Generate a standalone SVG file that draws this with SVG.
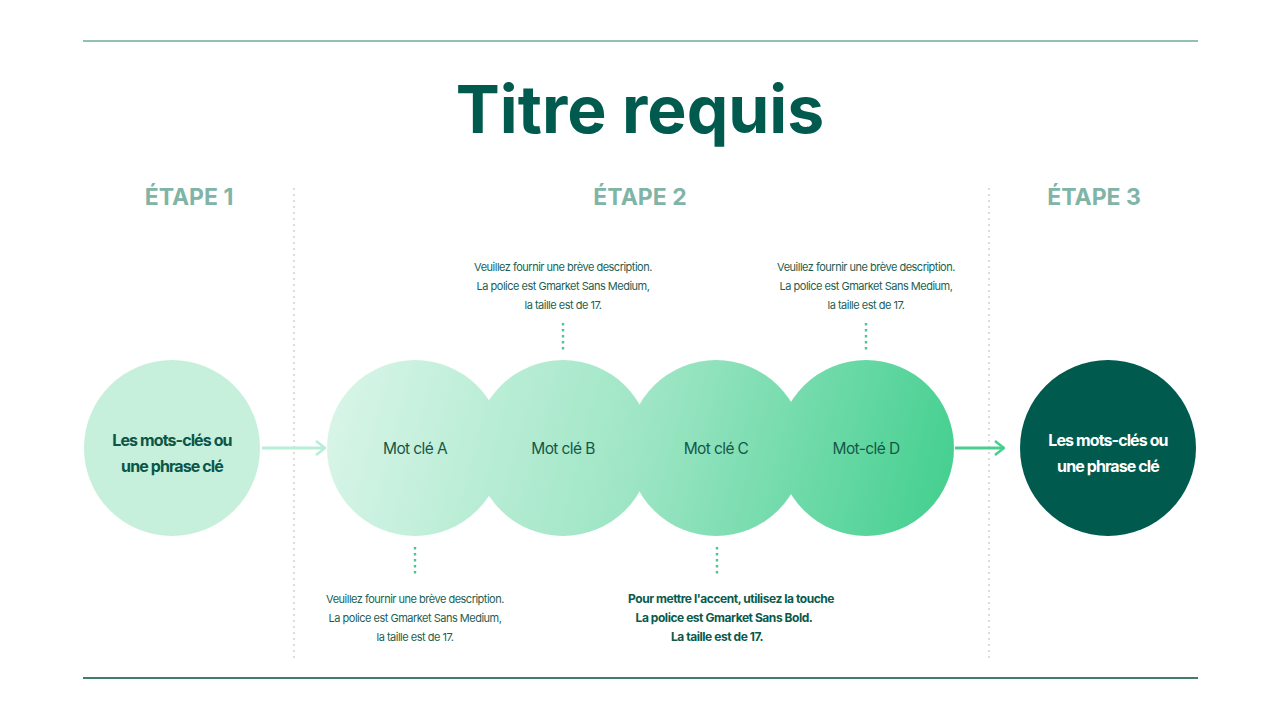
<svg xmlns="http://www.w3.org/2000/svg" width="1280" height="720" viewBox="0 0 1280 720">
<defs>
<linearGradient id="g" gradientUnits="userSpaceOnUse" x1="340" y1="370" x2="950" y2="530">
<stop offset="0" stop-color="#d8f5e8"/>
<stop offset="0.5" stop-color="#9ce5c4"/>
<stop offset="1" stop-color="#42cf8e"/>
</linearGradient>
<marker id="ah1" viewBox="0 0 12 16" refX="11" refY="8" markerWidth="12" markerHeight="16" markerUnits="userSpaceOnUse" orient="auto">
<path d="M2 1 L11 8 L2 15" fill="none" stroke="#b8edd6" stroke-width="2.6"/>
</marker>
<marker id="ah2" viewBox="0 0 12 16" refX="11" refY="8" markerWidth="12" markerHeight="16" markerUnits="userSpaceOnUse" orient="auto">
<path d="M2 1 L11 8 L2 15" fill="none" stroke="#48cf8f" stroke-width="2.6"/>
</marker>
</defs>
<style>
.t{font-family:Inter,"Liberation Sans",sans-serif;text-anchor:middle}
.step{font-size:23px;font-weight:700;fill:#80b4a6}
.desc{font-size:11px;fill:#1d5f52;letter-spacing:-0.5px}
.descb{font-size:12px;font-weight:700;fill:#0a5a4b;letter-spacing:-0.45px}
.kw{font-size:15.5px;fill:#145848;letter-spacing:-0.6px}
.kb{font-size:16px;font-weight:700;letter-spacing:-0.9px}
.sep{stroke:#dcdcdc;stroke-width:2;stroke-dasharray:2 4}
.dots{stroke:#4cc690;stroke-width:2.4;stroke-dasharray:2.4 3.6}
</style>
<rect width="1280" height="720" fill="#ffffff"/>
<line x1="83" y1="41" x2="1198" y2="41" stroke="#94bfb3" stroke-width="2"/>
<line x1="83" y1="678" x2="1198" y2="678" stroke="#3f7d6f" stroke-width="2"/>
<text class="t" x="640" y="133" font-size="66" font-weight="700" fill="#005a4e">Titre requis</text>
<text class="t step" x="189" y="205">ÉTAPE 1</text>
<text class="t step" x="640" y="205">ÉTAPE 2</text>
<text class="t step" x="1094" y="205">ÉTAPE 3</text>
<line class="sep" x1="294" y1="188" x2="294" y2="660"/>
<line class="sep" x1="989" y1="188" x2="989" y2="660"/>
<g id="connectors">
<line x1="262" y1="448" x2="325" y2="448" stroke="#b8edd6" stroke-width="3" marker-end="url(#ah1)"/>
<line x1="955" y1="448" x2="1004" y2="448" stroke="#48cf8f" stroke-width="3" marker-end="url(#ah2)"/>
<line class="dots" x1="563" y1="323" x2="563" y2="352"/>
<line class="dots" x1="866" y1="323" x2="866" y2="352"/>
<line class="dots" x1="415" y1="547" x2="415" y2="576"/>
<line class="dots" x1="717" y1="547" x2="717" y2="576"/>
</g>
<g id="step1">
<circle cx="172" cy="448" r="88" fill="#c6efdc"/>
<text class="t kb" fill="#0b5646"><tspan x="172" y="446">Les mots-clés ou</tspan><tspan x="172" y="472">une phrase clé</tspan></text>
</g>
<g id="nodeA">
<circle cx="415" cy="448" r="88" fill="url(#g)"/>
<text class="t kw" x="415" y="454">Mot clé A</text>
</g>
<g id="nodeB">
<circle cx="563" cy="448" r="88" fill="url(#g)"/>
<text class="t kw" x="563" y="454">Mot clé B</text>
</g>
<g id="nodeC">
<circle cx="716" cy="448" r="88" fill="url(#g)"/>
<text class="t kw" x="716" y="454">Mot clé C</text>
</g>
<g id="nodeD">
<circle cx="866" cy="448" r="88" fill="url(#g)"/>
<text class="t kw" x="866" y="454">Mot-clé D</text>
</g>
<g id="step3">
<circle cx="1108" cy="448" r="88" fill="#005a4e"/>
<text class="t kb" fill="#ffffff"><tspan x="1108" y="446">Les mots-clés ou</tspan><tspan x="1108" y="472">une phrase clé</tspan></text>
</g>
<g id="descB">
<text class="t desc"><tspan x="563" y="271">Veuillez fournir une brève description.</tspan><tspan x="563" y="290">La police est Gmarket Sans Medium,</tspan><tspan x="563" y="309">la taille est de 17.</tspan></text>
</g>
<g id="descD">
<text class="t desc"><tspan x="866" y="271">Veuillez fournir une brève description.</tspan><tspan x="866" y="290">La police est Gmarket Sans Medium,</tspan><tspan x="866" y="309">la taille est de 17.</tspan></text>
</g>
<g id="descA">
<text class="t desc"><tspan x="415" y="603">Veuillez fournir une brève description.</tspan><tspan x="415" y="622">La police est Gmarket Sans Medium,</tspan><tspan x="415" y="641">la taille est de 17.</tspan></text>
</g>
<g id="descC">
<text class="t descb"><tspan x="731" y="603">Pour mettre l'accent, utilisez la touche</tspan><tspan x="724" y="622">La police est Gmarket Sans Bold.</tspan><tspan x="717" y="641">La taille est de 17.</tspan></text>
</g>
</svg>
